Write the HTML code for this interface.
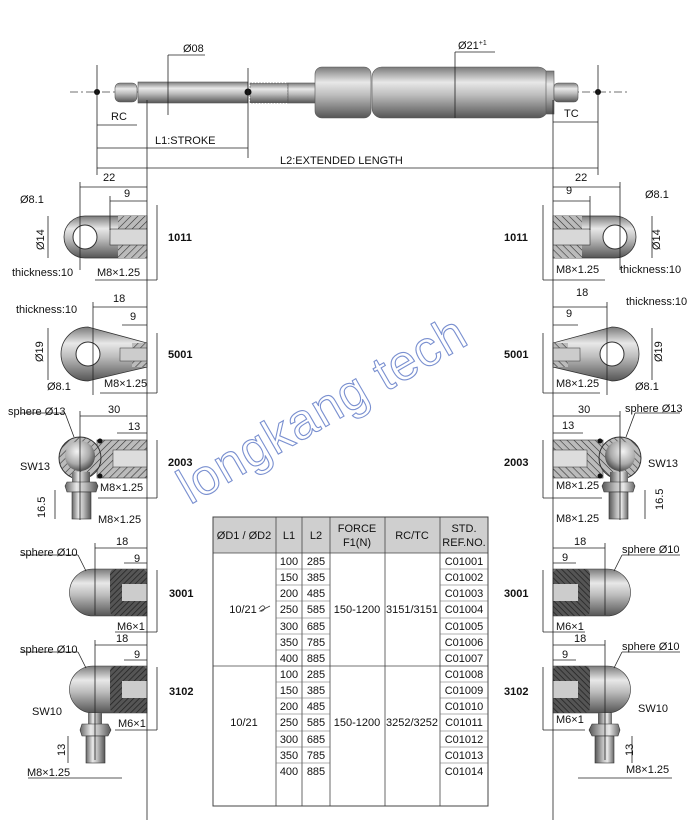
<!DOCTYPE html>
<html><head><meta charset="utf-8"><style>
html,body{margin:0;padding:0;background:#fff;}
svg{display:block;font-family:"Liberation Sans",Arial,sans-serif;}
.t{font-size:11px;fill:#111;}
.b{font-size:11px;font-weight:bold;fill:#111;}
.ln{stroke:#222;stroke-width:0.8;fill:none;}
.cl{stroke:#444;stroke-width:0.7;stroke-dasharray:8 3 2 3;fill:none;}
.tb{font-size:11px;fill:#111;text-anchor:middle;}
</style></head><body>
<svg width="700" height="832" viewBox="0 0 700 832" xmlns="http://www.w3.org/2000/svg">
<defs>
<linearGradient id="m" x1="0" y1="0" x2="0" y2="1">
<stop offset="0" stop-color="#7a7a7a"/><stop offset="0.3" stop-color="#e8e8e8"/><stop offset="0.55" stop-color="#bdbdbd"/><stop offset="1" stop-color="#555"/></linearGradient>
<linearGradient id="mv" x1="0" y1="0" x2="1" y2="0">
<stop offset="0" stop-color="#666"/><stop offset="0.35" stop-color="#e8e8e8"/><stop offset="0.6" stop-color="#bdbdbd"/><stop offset="1" stop-color="#555"/></linearGradient>
<radialGradient id="s" cx="0.4" cy="0.35" r="0.7"><stop offset="0" stop-color="#f4f4f4"/><stop offset="0.6" stop-color="#aaa"/><stop offset="1" stop-color="#444"/></radialGradient>
<pattern id="h" width="5" height="5" patternUnits="userSpaceOnUse" patternTransform="rotate(45)"><rect width="5" height="5" fill="#bbb"/><line x1="0" y1="0" x2="0" y2="5" stroke="#333" stroke-width="1.2"/></pattern>
<pattern id="hd" width="4" height="4" patternUnits="userSpaceOnUse" patternTransform="rotate(45)"><rect width="4" height="4" fill="#555"/><line x1="0" y1="0" x2="0" y2="4" stroke="#222" stroke-width="1.5"/></pattern>
<g id="parts">
 <path d="M85,216 L147,216 L147,258 L85,258 A21,21 0 0 1 85,216 Z" fill="url(#m)" stroke="#333" stroke-width="0.8"/>
 <rect x="118" y="216" width="29" height="42" fill="url(#h)"/>
 <rect x="110" y="229" width="37" height="16" fill="#d8d8d8" stroke="#333" stroke-width="0.6"/>
 <circle cx="85" cy="237" r="12" fill="#fff" stroke="#333"/>
 <path d="M88,327 L147,343 L147,367 L88,381 A27,27 0 0 1 88,327 Z" fill="url(#m)" stroke="#333" stroke-width="0.8"/>
 <rect x="132" y="343" width="15" height="24" fill="url(#h)"/>
 <rect x="120" y="348" width="27" height="13" fill="#ccc" stroke="#333" stroke-width="0.5"/>
 <circle cx="88" cy="354" r="12" fill="#fff" stroke="#333"/>
 <rect x="97" y="440" width="50" height="38" fill="url(#h)" stroke="#333" stroke-width="0.6"/>
 <rect x="113" y="450" width="34" height="17" fill="#ddd" stroke="#333" stroke-width="0.5"/>
 <circle cx="80" cy="458" r="21" fill="url(#h)" stroke="#333"/>
 <circle cx="80" cy="456" r="15" fill="url(#s)"/>
 <rect x="72" y="472" width="18" height="10" fill="url(#mv)"/>
 <polygon points="67,482 96,482 98,486 96,492 67,492 65,486" fill="url(#mv)" stroke="#333" stroke-width="0.6"/>
 <rect x="72" y="492" width="19" height="27" fill="url(#mv)" stroke="#333" stroke-width="0.6"/>
 <circle cx="100" cy="441" r="2.5" fill="#111"/><circle cx="100" cy="476" r="2.5" fill="#111"/>
 <path d="M93,569 L147,569 L147,616 L93,616 A23.5,23.5 0 0 1 93,569 Z" fill="url(#m)" stroke="#333" stroke-width="0.6"/>
 <rect x="110" y="569" width="37" height="47" rx="5" fill="url(#hd)"/>
 <rect x="122" y="584" width="25" height="17" fill="#ccc"/>
 <path d="M93,666 L147,666 L147,713 L93,713 A23.5,23.5 0 0 1 93,666 Z" fill="url(#m)" stroke="#333" stroke-width="0.6"/>
 <rect x="110" y="666" width="37" height="47" rx="5" fill="url(#hd)"/>
 <rect x="122" y="681" width="25" height="17" fill="#ccc"/>
 <rect x="88" y="713" width="14" height="11" fill="url(#mv)"/>
 <polygon points="82,724 108,724 111,730 108,736 82,736 80,730" fill="url(#mv)" stroke="#333" stroke-width="0.6"/>
 <rect x="86" y="736" width="19" height="27" fill="url(#mv)" stroke="#333" stroke-width="0.6"/>
 <g class="ln">
 <line x1="147" y1="100" x2="147" y2="820"/>
 <line x1="80" y1="187" x2="147" y2="187"/><line x1="80" y1="182" x2="80" y2="270"/>
 <line x1="110" y1="201" x2="147" y2="201"/><line x1="110" y1="196" x2="110" y2="230"/>
 <line x1="157" y1="205" x2="157" y2="280"/><line x1="95" y1="280" x2="157" y2="280"/>
 <line x1="48" y1="216" x2="48" y2="258"/>
 <line x1="93" y1="307" x2="147" y2="307"/><line x1="93" y1="302" x2="93" y2="395"/>
 <line x1="122" y1="325" x2="147" y2="325"/>
 <line x1="48" y1="328" x2="48" y2="380"/>
 <line x1="157" y1="333" x2="157" y2="393"/><line x1="100" y1="393" x2="157" y2="393"/>
 <line x1="80" y1="416" x2="147" y2="416"/><line x1="80" y1="411" x2="80" y2="520"/>
 <line x1="117" y1="433" x2="147" y2="433"/>
 <line x1="157" y1="440" x2="157" y2="498"/><line x1="98" y1="498" x2="157" y2="498"/>
 <line x1="55" y1="490" x2="55" y2="519"/>
 <line x1="95" y1="548" x2="147" y2="548"/><line x1="95" y1="543" x2="95" y2="615"/>
 <line x1="124" y1="563" x2="147" y2="563"/>
 <line x1="157" y1="570" x2="157" y2="632"/><line x1="115" y1="632" x2="157" y2="632"/>
 <line x1="95" y1="645" x2="147" y2="645"/><line x1="95" y1="640" x2="95" y2="760"/>
 <line x1="124" y1="660" x2="147" y2="660"/>
 <line x1="157" y1="667" x2="157" y2="730"/><line x1="115" y1="730" x2="157" y2="730"/>
 <line x1="68" y1="736" x2="68" y2="763"/>
 <line x1="28" y1="778" x2="122" y2="778"/>
 <line x1="20" y1="413" x2="65" y2="413"/><line x1="65" y1="413" x2="74" y2="437"/>
 <line x1="20" y1="555" x2="78" y2="555"/><line x1="78" y1="555" x2="86" y2="571"/>
 <line x1="20" y1="652" x2="78" y2="652"/><line x1="78" y1="652" x2="86" y2="668"/>
 </g>
</g>
</defs>

<line class="cl" x1="70" y1="92" x2="628" y2="92"/>
<rect x="115" y="83" width="22" height="19" rx="5" fill="url(#m)" stroke="#555" stroke-width="0.6"/>
<rect x="138" y="82" width="110" height="21" fill="url(#m)" stroke="#555" stroke-width="0.6"/>
<rect x="250" y="83" width="38" height="20" fill="url(#m)" stroke="#555" stroke-width="0.6" stroke-dasharray="2 1"/>
<rect x="288" y="83" width="30" height="20" fill="url(#m)" stroke="#555" stroke-width="0.6"/>
<rect x="315" y="67" width="56" height="51" rx="7" fill="url(#m)" stroke="#555" stroke-width="0.6"/>
<rect x="372" y="67" width="176" height="51" rx="10" fill="url(#m)" stroke="#555" stroke-width="0.6"/>
<rect x="546" y="71" width="8" height="43" fill="url(#m)" stroke="#555" stroke-width="0.6"/>
<rect x="554" y="83" width="24" height="19" rx="4" fill="url(#m)" stroke="#555" stroke-width="0.6"/>
<circle cx="97" cy="92" r="3" fill="#111"/><circle cx="248" cy="92" r="3.5" fill="#111"/><circle cx="598" cy="92" r="3" fill="#111"/>
<g class="ln">
<line x1="97" y1="65" x2="97" y2="175"/><line x1="598" y1="65" x2="598" y2="175"/>
<line x1="248" y1="68" x2="248" y2="158"/><line x1="168" y1="55" x2="168" y2="115"/><line x1="168" y1="55" x2="205" y2="55"/>
<line x1="455" y1="52" x2="455" y2="118"/><line x1="455" y1="52" x2="495" y2="52"/>
<line x1="97" y1="125" x2="137" y2="125"/><line x1="97" y1="148" x2="248" y2="148"/><line x1="97" y1="168" x2="598" y2="168"/>
<line x1="553" y1="122" x2="598" y2="122"/>
</g>
<text class="t" x="183" y="52">Ø08</text>
<text class="t" x="458" y="49">Ø21<tspan font-size="7" dy="-4">+1</tspan></text>
<text class="t" x="111" y="120">RC</text>
<text class="t" x="155" y="144">L1:STROKE</text>
<text class="t" x="280" y="164">L2:EXTENDED LENGTH</text>
<text class="t" x="564" y="117">TC</text>

<use href="#parts"/>
<use href="#parts" transform="translate(700,0) scale(-1,1)"/>

<text class="t" x="103" y="181">22</text><text class="t" x="124" y="197">9</text>
<text class="t" x="20" y="203">Ø8.1</text>
<text class="t" transform="translate(44,250) rotate(-90)">Ø14</text>
<text class="t" x="12" y="276">thickness:10</text><text class="t" x="97" y="276">M8×1.25</text>
<text class="b" x="168" y="241">1011</text>
<text class="t" x="113" y="302">18</text><text class="t" x="130" y="320">9</text>
<text class="t" x="16" y="313">thickness:10</text>
<text class="t" transform="translate(43,362) rotate(-90)">Ø19</text>
<text class="t" x="47" y="390">Ø8.1</text><text class="t" x="104" y="387">M8×1.25</text>
<text class="b" x="168" y="358">5001</text>
<text class="t" x="8" y="415">sphere Ø13</text>
<text class="t" x="108" y="413">30</text><text class="t" x="128" y="430">13</text>
<text class="t" x="20" y="470">SW13</text><text class="t" x="100" y="491">M8×1.25</text>
<text class="t" transform="translate(45,518) rotate(-90)">16.5</text>
<text class="t" x="98" y="523">M8×1.25</text>
<text class="b" x="168" y="466">2003</text>
<text class="t" x="20" y="556">sphere Ø10</text>
<text class="t" x="116" y="545">18</text><text class="t" x="134" y="562">9</text>
<text class="t" x="117" y="630">M6×1</text>
<text class="b" x="169" y="597">3001</text>
<text class="t" x="20" y="653">sphere Ø10</text>
<text class="t" x="116" y="642">18</text><text class="t" x="134" y="658">9</text>
<text class="t" x="32" y="715">SW10</text><text class="t" x="118" y="727">M6×1</text>
<text class="t" transform="translate(65,756) rotate(-90)">13</text>
<text class="t" x="27" y="776">M8×1.25</text>
<text class="b" x="169" y="695">3102</text>

<text class="t" x="575" y="181">22</text><text class="t" x="566" y="194">9</text>
<text class="t" x="645" y="198">Ø8.1</text>
<text class="t" transform="translate(660,250) rotate(-90)">Ø14</text>
<text class="t" x="556" y="273">M8×1.25</text><text class="t" x="620" y="273">thickness:10</text>
<text class="b" x="504" y="241">1011</text>
<text class="t" x="576" y="296">18</text><text class="t" x="566" y="317">9</text>
<text class="t" x="626" y="305">thickness:10</text>
<text class="t" transform="translate(662,362) rotate(-90)">Ø19</text>
<text class="t" x="556" y="387">M8×1.25</text><text class="t" x="635" y="390">Ø8.1</text>
<text class="b" x="504" y="358">5001</text>
<text class="t" x="578" y="413">30</text><text class="t" x="562" y="429">13</text>
<text class="t" x="625" y="412">sphere Ø13</text>
<text class="t" x="648" y="467">SW13</text><text class="t" x="556" y="489">M8×1.25</text>
<text class="t" transform="translate(663,510) rotate(-90)">16.5</text>
<text class="t" x="556" y="522">M8×1.25</text>
<text class="b" x="504" y="466">2003</text>
<text class="t" x="574" y="545">18</text><text class="t" x="562" y="561">9</text>
<text class="t" x="622" y="553">sphere Ø10</text>
<text class="t" x="556" y="630">M6×1</text>
<text class="b" x="504" y="597">3001</text>
<text class="t" x="574" y="642">18</text><text class="t" x="562" y="658">9</text>
<text class="t" x="622" y="650">sphere Ø10</text>
<text class="t" x="556" y="723">M6×1</text><text class="t" x="638" y="712">SW10</text>
<text class="t" transform="translate(633,756) rotate(-90)">13</text>
<text class="t" x="626" y="773">M8×1.25</text>
<text class="b" x="504" y="695">3102</text>

<text x="190" y="505" transform="rotate(-30 190 505)" font-size="50" fill="none" stroke="#7a90d0" stroke-width="1.1" letter-spacing="1">longkang tech</text>

<g>
<rect x="213" y="517" width="275" height="36" fill="#cfcfcf"/>
<rect x="213" y="517" width="275" height="289" fill="none" stroke="#444" stroke-width="1"/>
<g stroke="#444" stroke-width="0.8">
<line x1="213" y1="553" x2="488" y2="553"/>
<line x1="276" y1="517" x2="276" y2="806"/><line x1="302" y1="517" x2="302" y2="806"/>
<line x1="330" y1="517" x2="330" y2="806"/><line x1="385" y1="517" x2="385" y2="806"/>
<line x1="440" y1="517" x2="440" y2="806"/>
<line x1="213" y1="666" x2="488" y2="666"/>
</g>
<g stroke="#666" stroke-width="0.6">
<line x1="276" y1="569" x2="330" y2="569"/><line x1="440" y1="569" x2="488" y2="569"/>
<line x1="276" y1="585" x2="330" y2="585"/><line x1="440" y1="585" x2="488" y2="585"/>
<line x1="276" y1="601" x2="330" y2="601"/><line x1="440" y1="601" x2="488" y2="601"/>
<line x1="276" y1="618" x2="330" y2="618"/><line x1="440" y1="618" x2="488" y2="618"/>
<line x1="276" y1="634" x2="330" y2="634"/><line x1="440" y1="634" x2="488" y2="634"/>
<line x1="276" y1="650" x2="330" y2="650"/><line x1="440" y1="650" x2="488" y2="650"/>
<line x1="276" y1="682" x2="330" y2="682"/><line x1="440" y1="682" x2="488" y2="682"/>
<line x1="276" y1="698" x2="330" y2="698"/><line x1="440" y1="698" x2="488" y2="698"/>
<line x1="276" y1="714" x2="330" y2="714"/><line x1="440" y1="714" x2="488" y2="714"/>
<line x1="276" y1="731" x2="330" y2="731"/><line x1="440" y1="731" x2="488" y2="731"/>
<line x1="276" y1="747" x2="330" y2="747"/><line x1="440" y1="747" x2="488" y2="747"/>
<line x1="276" y1="763" x2="330" y2="763"/><line x1="440" y1="763" x2="488" y2="763"/>
</g>
<text class="tb" x="244" y="539">ØD1 / ØD2</text>
<text class="tb" x="289" y="539">L1</text><text class="tb" x="316" y="539">L2</text>
<text class="tb" x="357" y="532">FORCE</text><text class="tb" x="357" y="546">F1(N)</text>
<text class="tb" x="412" y="539">RC/TC</text>
<text class="tb" x="464" y="532">STD.</text><text class="tb" x="464" y="546">REF.NO.</text>
<text class="tb" x="289" y="565">100</text><text class="tb" x="316" y="565">285</text><text class="tb" x="464" y="565">C01001</text>
<text class="tb" x="289" y="581">150</text><text class="tb" x="316" y="581">385</text><text class="tb" x="464" y="581">C01002</text>
<text class="tb" x="289" y="597">200</text><text class="tb" x="316" y="597">485</text><text class="tb" x="464" y="597">C01003</text>
<text class="tb" x="289" y="613">250</text><text class="tb" x="316" y="613">585</text><text class="tb" x="464" y="613">C01004</text>
<text class="tb" x="289" y="630">300</text><text class="tb" x="316" y="630">685</text><text class="tb" x="464" y="630">C01005</text>
<text class="tb" x="289" y="646">350</text><text class="tb" x="316" y="646">785</text><text class="tb" x="464" y="646">C01006</text>
<text class="tb" x="289" y="662">400</text><text class="tb" x="316" y="662">885</text><text class="tb" x="464" y="662">C01007</text>
<text class="tb" x="289" y="678">100</text><text class="tb" x="316" y="678">285</text><text class="tb" x="464" y="678">C01008</text>
<text class="tb" x="289" y="694">150</text><text class="tb" x="316" y="694">385</text><text class="tb" x="464" y="694">C01009</text>
<text class="tb" x="289" y="710">200</text><text class="tb" x="316" y="710">485</text><text class="tb" x="464" y="710">C01010</text>
<text class="tb" x="289" y="726">250</text><text class="tb" x="316" y="726">585</text><text class="tb" x="464" y="726">C01011</text>
<text class="tb" x="289" y="743">300</text><text class="tb" x="316" y="743">685</text><text class="tb" x="464" y="743">C01012</text>
<text class="tb" x="289" y="759">350</text><text class="tb" x="316" y="759">785</text><text class="tb" x="464" y="759">C01013</text>
<text class="tb" x="289" y="775">400</text><text class="tb" x="316" y="775">885</text><text class="tb" x="464" y="775">C01014</text>
<text class="tb" x="243" y="613">10/21</text>
<path d="M259,609 q4,-6 6,-1 q-2,4 -5,3 l10,-5" stroke="#333" stroke-width="0.8" fill="none"/>
<text class="tb" x="357" y="613">150-1200</text><text class="tb" x="412" y="613">3151/3151</text>
<text class="tb" x="244" y="726">10/21</text>
<text class="tb" x="357" y="726">150-1200</text><text class="tb" x="412" y="726">3252/3252</text>
</g>
</svg>
</body></html>
